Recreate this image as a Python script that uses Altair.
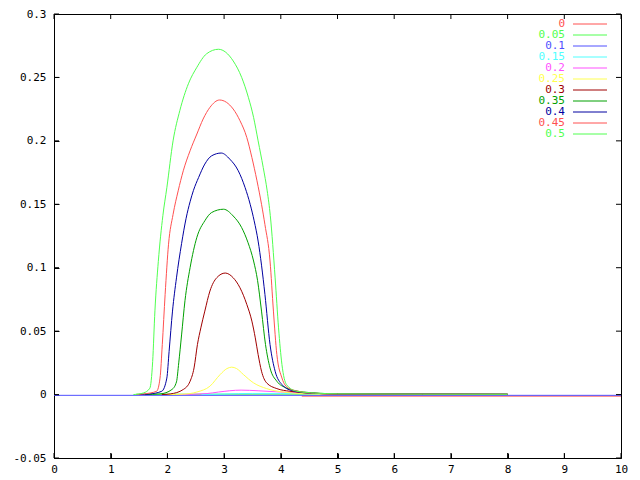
import altair as alt
import pandas as pd

# ---- data ----
labels = ["0", "0.05", "0.1", "0.15", "0.2", "0.25", "0.3", "0.35", "0.4", "0.45", "0.5"]
colors = ["#ff5050", "#50ff50", "#5050ff", "#50ffff", "#ff50ff", "#ffff50",
          "#a00000", "#00a000", "#0000a0", "#ff5050", "#50ff50"]

x_00 = [4.37, 10.0]
y_00 = [-0.0012, -0.0012]

x_05 = [1.45, 3.0, 5.0, 8.0]
y_05 = [0.0003, 0.0003, 0.0003, 0.0003]

x_10 = [0.0, 10.0]
y_10 = [-0.0006, -0.0006]

x_15 = [2.6, 3.0, 3.5, 4.0, 4.6, 5.0, 8.0]
y_15 = [0.0, 0.0005, 0.0009, 0.0009, 0.0006, 0.0003, 0.0002]

x_20 = [2.2, 2.7, 2.9, 3.3, 3.6, 4.0, 4.5, 5.0, 8.0]
y_20 = [0.0, 0.0008, 0.002, 0.0035, 0.003, 0.002, 0.001, 0.0004, 0.0002]

x_25 = [2.0, 2.28, 2.52, 2.75, 2.93, 3.05, 3.134, 3.22, 3.34, 3.52, 3.75, 4.04, 4.40, 5.0, 8.0]
y_25 = [0.0, 0.0003, 0.002, 0.0066, 0.0158, 0.0205, 0.0216, 0.0205, 0.0158, 0.0092, 0.0047, 0.002, 0.0007, 0.0003, 0.0002]

x_30 = [1.9, 2.05, 2.28, 2.40, 2.47, 2.53, 2.59, 2.66, 2.75, 2.87, 3.02, 3.16, 3.28, 3.40, 3.49, 3.55, 3.60, 3.66, 3.75, 3.93, 4.16, 4.5, 5.0, 8.0]
y_30 = [0.0, 0.0005, 0.004, 0.0105, 0.021, 0.0395, 0.0526, 0.0658, 0.0816, 0.0921, 0.0958, 0.0921, 0.0842, 0.0711, 0.0579, 0.0447, 0.0316, 0.0184, 0.0092, 0.0047, 0.0026, 0.0012, 0.0005, 0.0002]

x_35 = [1.6, 1.87, 2.08, 2.16, 2.20, 2.25, 2.31, 2.40, 2.52, 2.66, 2.78, 2.99, 3.16, 3.31, 3.42, 3.52, 3.59, 3.66, 3.73, 3.81, 3.93, 4.10, 4.4, 5.0, 8.0]
y_35 = [0.0, 0.0005, 0.004, 0.010, 0.025, 0.047, 0.074, 0.100, 0.124, 0.137, 0.1435, 0.1461, 0.1408, 0.1316, 0.1200, 0.1053, 0.0900, 0.0658, 0.0395, 0.021, 0.0105, 0.0052, 0.002, 0.0006, 0.0002]

x_40 = [1.5, 1.69, 1.90, 1.99, 2.03, 2.09, 2.16, 2.25, 2.33, 2.40, 2.46, 2.55, 2.66, 2.78, 2.95, 3.10, 3.25, 3.37, 3.46, 3.53, 3.60, 3.66, 3.72, 3.81, 3.90, 4.02, 4.19, 4.5, 5.0, 8.0]
y_40 = [0.0, 0.0005, 0.0026, 0.013, 0.034, 0.0658, 0.092, 0.119, 0.139, 0.152, 0.161, 0.1711, 0.1817, 0.1882, 0.1904, 0.1856, 0.1764, 0.1632, 0.150, 0.137, 0.121, 0.102, 0.079, 0.0395, 0.0184, 0.0079, 0.0032, 0.0012, 0.0005, 0.0002]

x_45 = [1.45, 1.58, 1.81, 1.87, 1.91, 1.96, 2.02, 2.10, 2.19, 2.28, 2.40, 2.52, 2.63, 2.75, 2.92, 3.16, 3.28, 3.40, 3.49, 3.58, 3.66, 3.72, 3.81, 3.87, 3.93, 4.02, 4.13, 4.31, 4.6, 5.0, 8.0]
y_45 = [0.0, 0.0005, 0.0026, 0.013, 0.0395, 0.079, 0.1185, 0.142, 0.1606, 0.1764, 0.1922, 0.2054, 0.2172, 0.2264, 0.2322, 0.2251, 0.2159, 0.2027, 0.1869, 0.1685, 0.150, 0.134, 0.1053, 0.0658, 0.0316, 0.0131, 0.0052, 0.0026, 0.001, 0.0005, 0.0002]

x_50 = [1.40, 1.58, 1.69, 1.74, 1.78, 1.84, 1.92, 1.99, 2.10, 2.22, 2.37, 2.52, 2.69, 2.90, 3.16, 3.31, 3.43, 3.52, 3.60, 3.69, 3.76, 3.815, 3.90, 3.96, 4.02, 4.10, 4.28, 4.6, 5.0, 8.0]
y_50 = [0.0, 0.0013, 0.005, 0.026, 0.066, 0.105, 0.141, 0.163, 0.200, 0.224, 0.245, 0.258, 0.2686, 0.2722, 0.263, 0.250, 0.234, 0.2185, 0.200, 0.179, 0.1606, 0.141, 0.092, 0.0526, 0.0237, 0.0079, 0.0026, 0.0012, 0.0006, 0.0002]

x_ticks = [0, 1, 2, 3, 4, 5, 6, 7, 8, 9, 10]
y_ticks = [-0.05, 0.0, 0.05, 0.1, 0.15, 0.2, 0.25, 0.3]

series_xy = [(x_00, y_00), (x_05, y_05), (x_10, y_10), (x_15, y_15), (x_20, y_20),
             (x_25, y_25), (x_30, y_30), (x_35, y_35), (x_40, y_40), (x_45, y_45), (x_50, y_50)]

rows = []
for order, (lab, (xs_, ys_)) in enumerate(zip(labels, series_xy)):
    for xv, yv in zip(xs_, ys_):
        rows.append({"series": lab, "order": order, "x": xv, "y": yv})
df = pd.DataFrame(rows)
key_df = pd.DataFrame({"series": labels})
xt_df = pd.DataFrame({"v": x_ticks})
yt_df = pd.DataFrame({"v": y_ticks})

FONT = "DejaVu Sans Mono"
FS = 11
TICK = 5
W, H = 567, 444

y_label_expr = "datum.value < 0 ? '-' + format(-datum.value, '~g') : format(datum.value, '~g')"

xs = alt.Scale(domain=[0, 10], nice=False, zero=False)
ysc = alt.Scale(domain=[-0.05, 0.3], nice=False, zero=False)
color_scale = alt.Scale(domain=labels, range=colors)

lines = alt.Chart(df).mark_line(strokeWidth=1, interpolate="monotone").encode(
    x=alt.X("x:Q", scale=xs, axis=alt.Axis(
        values=x_ticks, title=None, grid=False, domain=False, tickSize=TICK, offset=-TICK,
        tickColor="black", labelColor="black", labelFont=FONT, labelFontSize=FS,
        labelPadding=5, labelFlush=False, labelOverlap=False)),
    y=alt.Y("y:Q", scale=ysc, axis=alt.Axis(
        values=y_ticks, title=None, grid=False, domain=False, tickSize=TICK, offset=-TICK,
        tickColor="black", labelColor="black", labelFont=FONT, labelFontSize=FS,
        labelPadding=8, labelExpr=y_label_expr, labelFlush=False, labelOverlap=False)),
    color=alt.Color("series:N", scale=color_scale, legend=None),
    order=alt.Order("x:Q"),
)

# inward tick marks on all four sides (gnuplot border style)
tick_bottom = alt.Chart(xt_df).mark_rule(color="black", strokeWidth=1).encode(
    x=alt.X("v:Q", scale=xs, axis=None), y=alt.value(H), y2=alt.value(H - TICK))
tick_top = alt.Chart(xt_df).mark_rule(color="black", strokeWidth=1).encode(
    x=alt.X("v:Q", scale=xs, axis=None), y=alt.value(0), y2=alt.value(TICK))
tick_left = alt.Chart(yt_df).mark_rule(color="black", strokeWidth=1).encode(
    y=alt.Y("v:Q", scale=ysc, axis=None), x=alt.value(0), x2=alt.value(TICK))
tick_right = alt.Chart(yt_df).mark_rule(color="black", strokeWidth=1).encode(
    y=alt.Y("v:Q", scale=ysc, axis=None), x=alt.value(W), x2=alt.value(W - TICK))

# gnuplot-style key: coloured label, then a short line sample
key_y = alt.Y("series:N", scale=alt.Scale(type="point", domain=labels, range=[10, 120], padding=0),
              axis=None)
key_text = alt.Chart(key_df).mark_text(align="right", baseline="middle", font=FONT, fontSize=FS).encode(
    x=alt.value(511), y=key_y, text="series:N",
    color=alt.Color("series:N", scale=color_scale, legend=None),
)
key_line = alt.Chart(key_df).mark_rule(strokeWidth=1).encode(
    x=alt.value(519), x2=alt.value(553), y=key_y,
    color=alt.Color("series:N", scale=color_scale, legend=None),
)

chart = alt.layer(lines, tick_bottom, tick_top, tick_left, tick_right, key_line, key_text).resolve_axis(
    x="independent", y="independent").resolve_scale(y="independent").properties(
    width=W, height=H,
    autosize=alt.AutoSizeParams(type="none"),
    padding={"left": 46, "top": 6, "right": 10, "bottom": 18},
    background="white",
).configure_view(stroke="black", strokeWidth=1)

chart.save("out.html", embed_options={"renderer": "svg", "actions": False})
